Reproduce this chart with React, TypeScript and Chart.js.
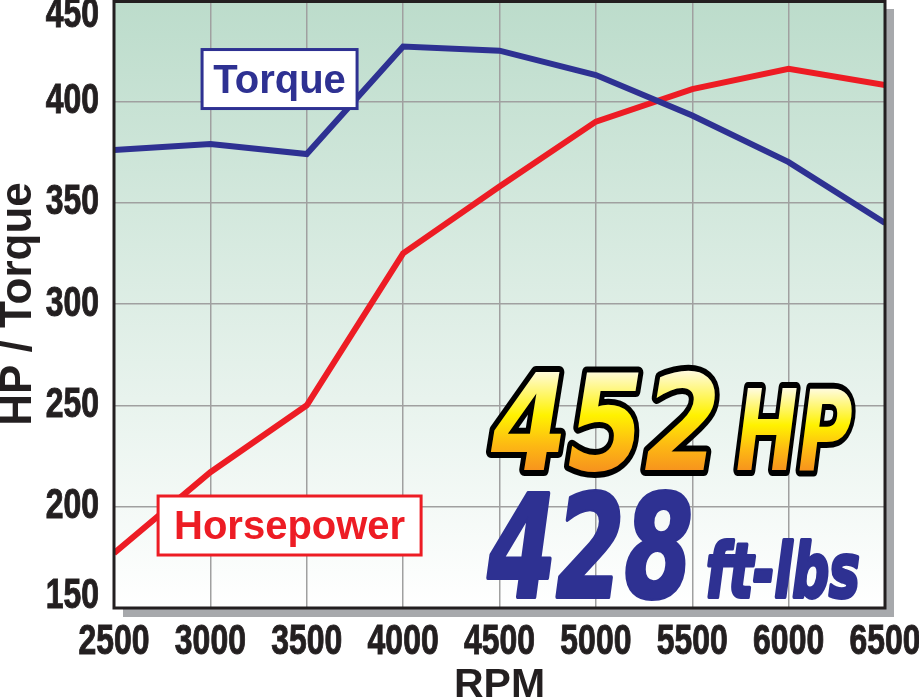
import React, { useEffect, useRef } from "react";
import Chart from "chart.js/auto";

const rpm = [2500, 3000, 3500, 4000, 4500, 5000, 5500, 6000, 6500];
const torque = [376, 379, 374, 427, 425, 413, 393, 370, 340];
const horsepower = [177, 217, 250, 325, 358, 390, 406, 416, 408];
const yTicks = [150, 200, 250, 300, 350, 400, 450];

const peakHp = "452";
const peakTorque = "428";

const BLUE = "#2e3192";
const RED = "#ed1c24";
const INK = "#231f20";
const WIDE = "'Liberation Sans', Arial, sans-serif";
const HEAVY = "'DejaVu Sans', sans-serif";

// label boxes, anchored in data space (rpm, value)
const boxes = [
  { text: "Torque", rpm: 3359, value: 411, w: 155, h: 59, color: BLUE },
  { text: "Horsepower", rpm: 3411, value: 190.7, w: 263, h: 59, color: RED },
];

// big headline text: ink from rpm0 to rpm1, baseline at value
const headline = [
  { text: peakHp, rpm0: 4451, rpm1: 5618, value: 218, size: 134, kind: "gold" },
  { text: "HP", rpm0: 5732, rpm1: 6329, value: 218, size: 112, kind: "gold" },
  { text: peakTorque, rpm0: 4435, rpm1: 5488, value: 155.4, size: 143, kind: "blue" },
  { text: "ft-lbs", rpm0: 5582, rpm1: 6360, value: 155.4, size: 75, kind: "blue" },
];

// condensed tick label: the installed fonts have no narrow face, so squeeze it
function narrowText(ctx: CanvasRenderingContext2D, text: string, x: number, y: number, align: "center" | "right") {
  const k = 0.76;
  ctx.save();
  ctx.font = `bold 42px ${WIDE}`;
  ctx.fillStyle = INK;
  ctx.strokeStyle = INK;
  ctx.lineWidth = 1;
  ctx.textBaseline = "middle";
  ctx.textAlign = align;
  ctx.translate(x, y);
  ctx.scale(k, 1);
  ctx.fillText(text, 0, 0);
  ctx.strokeText(text, 0, 0);
  ctx.restore();
}

const framePlugin = {
  id: "frame",
  beforeDraw(chart: any) {
    const { ctx, chartArea: a } = chart;
    ctx.save();
    ctx.fillStyle = "#a7a9ac";
    ctx.fillRect(a.left + 9, a.top + 9, a.right - a.left, a.bottom - a.top);
    const g = ctx.createLinearGradient(0, a.top, 0, a.bottom);
    g.addColorStop(0, "#bcdccb");
    g.addColorStop(1, "#ffffff");
    ctx.fillStyle = g;
    ctx.fillRect(a.left, a.top, a.right - a.left, a.bottom - a.top);
    ctx.restore();
  },
  afterDatasetsDraw(chart: any) {
    const { ctx, chartArea: a } = chart;
    ctx.save();
    ctx.strokeStyle = INK;
    ctx.lineWidth = 3;
    ctx.strokeRect(a.left, a.top + 1.5, a.right - a.left, a.bottom - a.top - 1.5);
    ctx.restore();
  },
  afterDraw(chart: any) {
    const { ctx, scales, chartArea: a } = chart;
    const sx = scales.x;
    const sy = scales.y;

    for (const t of sy.ticks) {
      const py = Math.min(Math.max(sy.getPixelForValue(t.value), a.top + 15), a.bottom - 12);
      narrowText(ctx, String(t.value), a.left - 15, py, "right");
    }
    for (const t of sx.ticks) {
      narrowText(ctx, String(t.value), sx.getPixelForValue(t.value), a.bottom + 34, "center");
    }

    ctx.save();
    for (const b of boxes) {
      const cx = sx.getPixelForValue(b.rpm);
      const cy = sy.getPixelForValue(b.value);
      ctx.fillStyle = "#ffffff";
      ctx.fillRect(cx - b.w / 2, cy - b.h / 2, b.w, b.h);
      ctx.strokeStyle = b.color;
      ctx.lineWidth = 3;
      ctx.strokeRect(cx - b.w / 2, cy - b.h / 2, b.w, b.h);
      ctx.fillStyle = b.color;
      ctx.font = `bold 40px ${WIDE}`;
      ctx.textAlign = "center";
      ctx.textBaseline = "alphabetic";
      ctx.fillText(b.text, cx, cy + 13.5);
    }
    for (const t of headline) {
      const x0 = sx.getPixelForValue(t.rpm0);
      const x1 = sx.getPixelForValue(t.rpm1);
      const base = sy.getPixelForValue(t.value);
      ctx.save();
      ctx.font = `italic bold ${t.size}px ${HEAVY}`;
      ctx.textAlign = "left";
      ctx.textBaseline = "alphabetic";
      const m = ctx.measureText(t.text);
      const natural = m.actualBoundingBoxLeft + m.actualBoundingBoxRight;
      const k = (x1 - x0) / natural;
      const top = m.actualBoundingBoxAscent;
      ctx.translate(x0, base);
      ctx.scale(k, 1);
      const tx = m.actualBoundingBoxLeft;
      ctx.lineJoin = "round";
      if (t.kind === "gold") {
        ctx.strokeStyle = "#000000";
        ctx.lineWidth = 12;
        ctx.strokeText(t.text, tx, 0);
        const g = ctx.createLinearGradient(0, -top, 0, 0);
        g.addColorStop(0, "#fffbe0");
        g.addColorStop(0.45, "#fff200");
        g.addColorStop(0.75, "#fdb913");
        g.addColorStop(1, "#f7941d");
        ctx.fillStyle = g;
      } else {
        ctx.strokeStyle = BLUE;
        ctx.lineWidth = 4;
        ctx.strokeText(t.text, tx, 0);
        ctx.fillStyle = BLUE;
      }
      ctx.fillText(t.text, tx, 0);
      ctx.restore();
    }
    ctx.restore();
  },
};

function PowerChart() {
  const canvasRef = useRef<HTMLCanvasElement>(null);

  useEffect(() => {
    if (!canvasRef.current) return;
    const chart = new Chart(canvasRef.current, {
      type: "line",
      data: {
        datasets: [
          {
            label: "Torque",
            data: rpm.map((r, i) => ({ x: r, y: torque[i] })),
            borderColor: BLUE,
            borderWidth: 6,
            pointRadius: 0,
            tension: 0,
          },
          {
            label: "Horsepower",
            data: rpm.map((r, i) => ({ x: r, y: horsepower[i] })),
            borderColor: RED,
            borderWidth: 6,
            pointRadius: 0,
            tension: 0,
          },
        ],
      },
      options: {
        animation: false,
        responsive: true,
        maintainAspectRatio: false,
        layout: { padding: { top: 0, left: 0, bottom: 0, right: 34 } },
        plugins: {
          legend: { display: false },
          tooltip: { enabled: false },
        },
        scales: {
          x: {
            type: "linear",
            min: rpm[0],
            max: rpm[rpm.length - 1],
            afterBuildTicks: (s: any) => {
              s.ticks = rpm.map((v) => ({ value: v }));
            },
            afterFit: (s: any) => {
              s.height = 92;
              s.paddingLeft = 0;
              s.paddingRight = 0;
            },
            grid: { color: "#a0a0a0", lineWidth: 1.5, drawTicks: false },
            border: { display: false },
            ticks: { display: false },
            title: {
              display: true,
              text: "RPM",
              color: INK,
              padding: 0,
              font: { family: WIDE, size: 41, weight: "bold", lineHeight: 0.7 },
            },
          },
          y: {
            min: yTicks[0],
            max: yTicks[yTicks.length - 1],
            afterBuildTicks: (s: any) => {
              s.ticks = yTicks.map((v) => ({ value: v }));
            },
            afterFit: (s: any) => {
              s.width = 114;
              s.paddingTop = 0;
              s.paddingBottom = 0;
            },
            grid: { color: "#a0a0a0", lineWidth: 1.5, drawTicks: false },
            border: { display: false },
            ticks: { display: false },
            title: {
              display: true,
              text: "HP / Torque",
              color: INK,
              padding: 0,
              font: { family: WIDE, size: 44, weight: "bold", lineHeight: 0.85 },
            },
          },
        },
      },
      plugins: [framePlugin],
    });

    return () => {
      chart.destroy();
    };
  }, []);

  return (
    <div style={{ position: "relative", width: 919, height: 700 }}>
      <canvas ref={canvasRef} />
    </div>
  );
}

export default function App() {
  useEffect(() => {
    document.body.style.margin = "0";
    document.body.style.background = "#ffffff";
  }, []);
  return <PowerChart />;
}
